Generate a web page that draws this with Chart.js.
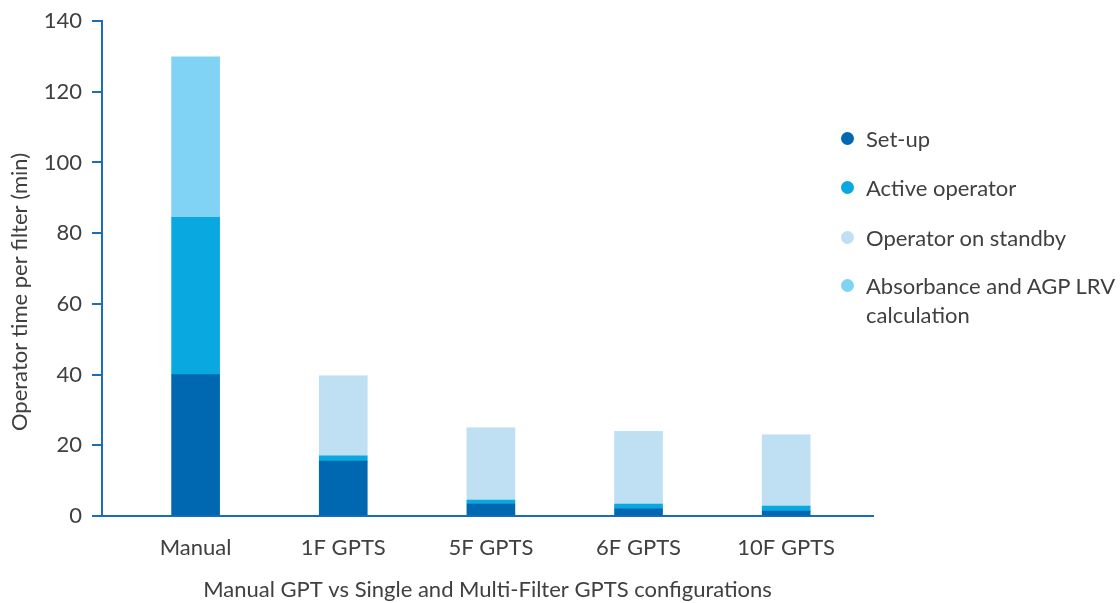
<!DOCTYPE html>
<html>
<head>
<meta charset="utf-8">
<script src="https://cdn.jsdelivr.net/npm/chart.js@4.4.1/dist/chart.umd.min.js"></script>
<style>
  html, body { margin: 0; padding: 0; background: #fff; overflow: hidden; }
  #wrap { position: relative; width: 1120px; height: 603px; overflow: hidden; }
  #legend { position: absolute; left: 0; top: 0; font-family: Lato, sans-serif; font-size: 22px; color: #404040; }
  .item { position: absolute; left: 841px; width: 279px; display: flex; align-items: flex-start; line-height: 29px; }
  .dot { width: 13px; height: 13px; border-radius: 50%; margin-top: 8px; margin-right: 12px; flex: none; }
</style>
</head>
<body>
<div id="wrap">
  <canvas id="chart"></canvas>
  <div id="legend"></div>
</div>
<script>
// Operator time per filter, in minutes, split by activity
const categories = ['Manual', '1F GPTS', '5F GPTS', '6F GPTS', '10F GPTS'];
const setup      = [40,   15.5, 3.4,  2.0,  1.4];
const active     = [44.5, 1.5,  1.1,  1.4,  1.4];
const standby    = [0,    22.6, 20.4, 20.4, 20.1];
const absorbance = [45.4, 0,    0,    0,    0];

const seriesLabels = ['Set-up', 'Active operator', 'Operator on standby', 'Absorbance and AGP LRV calculation'];
const seriesValues = [setup, active, standby, absorbance];
const seriesColors = ['#0067b1', '#09a8e0', '#bfdff3', '#80d3f5'];

const yTicks = [0, 20, 40, 60, 80, 100, 120, 140];
const xTitle = 'Manual GPT vs Single and Multi-Filter GPTS configurations';
const yTitle = 'Operator time per filter (min)';

const AXIS_BLUE = '#1a6dbb';
const TEXT = '#404040';
const FONT = 'Lato, sans-serif';
const FONT_SIZE = 22;

Chart.defaults.font.family = FONT;
Chart.defaults.color = TEXT;

// Rotated y-axis caption, centred a little below the middle of the plot
const yTitlePlugin = {
  id: 'yTitle',
  afterDraw(chart) {
    const ctx = chart.ctx;
    ctx.save();
    ctx.translate(20, 292);
    ctx.rotate(-Math.PI / 2);
    ctx.font = FONT_SIZE + 'px ' + FONT;
    ctx.fillStyle = TEXT;
    ctx.textAlign = 'center';
    ctx.textBaseline = 'middle';
    ctx.fillText(yTitle, 0, 0);
    ctx.restore();
  }
};

const datasets = seriesLabels.map((label, s) => ({
  label,
  data: categories.map((c, i) => ({ x: i, y: seriesValues[s][i] })),
  backgroundColor: seriesColors[s],
  borderWidth: 0,
  barThickness: 48
}));

new Chart(document.getElementById('chart'), {
  type: 'bar',
  data: { datasets },
  options: {
    responsive: true,
    maintainAspectRatio: false,
    animation: false,
    layout: { padding: { top: 21, right: 247, bottom: 0, left: 0 } },
    plugins: { legend: { display: false }, tooltip: { enabled: false } },
    scales: {
      x: {
        type: 'linear',
        offset: false,
        stacked: true,
        min: -0.634,
        max: 4.588,
        afterBuildTicks: (scale) => { scale.ticks = categories.map((c, i) => ({ value: i })); },
        ticks: {
          callback: (v) => categories[v],
          font: { size: FONT_SIZE },
          color: TEXT,
          padding: 11,
          maxRotation: 0,
          autoSkip: false
        },
        grid: { display: false, offset: false },
        border: { color: AXIS_BLUE, width: 2 },
        title: { display: true, text: xTitle, font: { size: FONT_SIZE }, color: TEXT, padding: { top: 0, bottom: 0 } },
        afterFit: (scale) => { scale.height = 87; }
      },
      y: {
        stacked: true,
        min: yTicks[0],
        max: yTicks[yTicks.length - 1],
        afterBuildTicks: (scale) => { scale.ticks = yTicks.map(v => ({ value: v })); },
        ticks: { font: { size: FONT_SIZE }, color: TEXT, padding: 10 },
        grid: { drawOnChartArea: false, color: AXIS_BLUE, tickLength: 10, lineWidth: 2 },
        border: { color: AXIS_BLUE, width: 2 },
        afterFit: (scale) => {
          scale.width = 102;
          scale.paddingTop = 0;
          scale.paddingBottom = 0;
        }
      }
    }
  },
  plugins: [yTitlePlugin]
});

// Legend entries
const legendTops = [124, 173, 223, 271];
const legend = document.getElementById('legend');
seriesLabels.forEach((label, s) => {
  const item = document.createElement('div');
  item.className = 'item';
  item.style.top = legendTops[s] + 'px';
  const dot = document.createElement('span');
  dot.className = 'dot';
  dot.style.background = seriesColors[s];
  const txt = document.createElement('span');
  txt.textContent = label;
  item.appendChild(dot);
  item.appendChild(txt);
  legend.appendChild(item);
});
</script>
</body>
</html>
